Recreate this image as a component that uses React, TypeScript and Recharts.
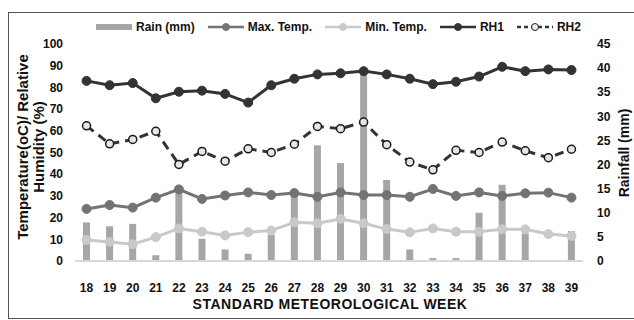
import { ComposedChart, Bar, Line, XAxis, YAxis } from "recharts";

const weeks = ["18", "19", "20", "21", "22", "23", "24", "25", "26", "27", "28", "29", "30", "31", "32", "33", "34", "35", "36", "37", "38", "39"];
const rain = [8.0, 7.2, 7.7, 1.2, 15.1, 4.6, 2.4, 1.5, 5.4, 14.4, 24.0, 20.3, 39.5, 16.8, 2.4, 0.6, 0.6, 10.0, 15.8, 5.7, 0, 6.2];
const maxTemp = [24, 25.8, 24.6, 29.2, 33, 28.6, 30.2, 31.6, 30.4, 31.3, 29.6, 31.6, 30.4, 30.4, 29.6, 33.2, 30, 31.6, 30, 31.2, 31.5, 29.2];
const minTemp = [9.7, 8.8, 7.7, 11, 15, 13.5, 11.8, 13.3, 14, 17.8, 17.4, 19.4, 17.4, 14.7, 13.2, 15, 13.5, 13.5, 14.6, 14.6, 12.4, 11.5];
const rh1 = [83, 81, 82, 75, 78, 78.5, 77, 73, 81, 84, 86, 86.5, 87.5, 86, 84, 81.5, 82.6, 85, 89.5, 87.5, 88.3, 88];
const rh2 = [62.3, 54, 56, 59.8, 44.5, 50.5, 46, 51.7, 50, 53.8, 62, 61, 64, 53.6, 45.6, 42, 51, 50, 54.8, 50.8, 47.6, 51.5];
const leftTicks = [0, 10, 20, 30, 40, 50, 60, 70, 80, 90, 100];
const rightTicks = [0, 5, 10, 15, 20, 25, 30, 35, 40, 45];

const data = weeks.map((week, i) => ({
  week,
  rain: rain[i],
  maxTemp: maxTemp[i],
  minTemp: minTemp[i],
  rh1: rh1[i],
  rh2: rh2[i],
}));

const FONT = '"Liberation Sans", Arial, sans-serif';
const RAIN = "#a6a6a6";
const MAXC = "#737373";
const MINC = "#c9c9c9";
const DARK = "#333333";

const tickStyle = { fontSize: 12, fontWeight: 700, fill: "#111", fontFamily: FONT };

const LegendIcon = ({ kind }: { kind: string }) => {
  if (kind === "rain") {
    return (
      <svg width={36} height={12}>
        <rect x={0} y={3} width={36} height={6} fill={RAIN} />
      </svg>
    );
  }
  const color = kind === "max" ? MAXC : kind === "min" ? MINC : DARK;
  const dashed = kind === "rh2";
  return (
    <svg width={36} height={12}>
      <line x1={0} y1={6} x2={36} y2={6} stroke={color} strokeWidth={2.5} strokeDasharray={dashed ? "4 3" : undefined} />
      <circle cx={18} cy={6} r={3.5} fill={dashed ? "#eee" : color} stroke={dashed ? "#222" : color} strokeWidth={1} />
    </svg>
  );
};

const legendItems = [
  { kind: "rain", label: "Rain (mm)" },
  { kind: "max", label: "Max. Temp." },
  { kind: "min", label: "Min. Temp." },
  { kind: "rh1", label: "RH1" },
  { kind: "rh2", label: "RH2" },
];

const ChartLegend = () => (
  <div
    style={{
      position: "absolute",
      left: 96,
      top: 20,
      display: "flex",
      alignItems: "center",
      gap: 13,
      fontFamily: FONT,
      fontSize: 12,
      fontWeight: 700,
      color: "#111",
      whiteSpace: "nowrap",
    }}
  >
    {legendItems.map((it) => (
      <div key={it.kind} style={{ display: "flex", alignItems: "center", gap: 4 }}>
        <LegendIcon kind={it.kind} />
        <span>{it.label}</span>
      </div>
    ))}
  </div>
);

const titleStyle = { fontSize: 15, fontWeight: 700, fontFamily: FONT, fill: "#111" };

const LeftTitle = () => (
  <g>
    <text transform="translate(22,147) rotate(-90)" textAnchor="middle" dominantBaseline="central" style={titleStyle}>
      Temperature(oC)/ Relative
    </text>
    <text transform="translate(38,147) rotate(-90)" textAnchor="middle" dominantBaseline="central" style={titleStyle}>
      Humidity (%)
    </text>
  </g>
);

const RightTitle = () => (
  <text
    transform="translate(624,153) rotate(-90)"
    textAnchor="middle"
    dominantBaseline="central"
    style={{ ...titleStyle, fontSize: 14 }}
  >
    Rainfall (mm)
  </text>
);

const BottomTitle = () => (
  <text
    x={330}
    y={304}
    textAnchor="middle"
    dominantBaseline="central"
    style={{ ...titleStyle, fontSize: 14, letterSpacing: 0.5 }}
  >
    STANDARD  METEOROLOGICAL  WEEK
  </text>
);

export default function App() {
  return (
    <div style={{ position: "absolute", left: 0, top: 0, width: 634, height: 320, background: "#fff", overflow: "hidden" }}>
      <div
        style={{
          position: "absolute",
          left: 8,
          top: 12,
          width: 630,
          height: 305,
          border: "1px solid #555",
        }}
      />
      <ChartLegend />
      <div style={{ position: "absolute", left: 0, top: 0 }}>
        <ComposedChart width={634} height={320} data={data} margin={{ top: 44, right: 11, bottom: 29, left: 15 }}>
          <XAxis
            dataKey="week"
            height={30}
            tickLine={false}
            tickSize={0}
            tickMargin={22}
            axisLine={{ stroke: "#d9d9d9", strokeWidth: 2 }}
            tick={tickStyle}
            interval={0}
            label={{ content: () => <BottomTitle /> }}
          />
          <YAxis
            yAxisId="left"
            width={60}
            domain={[0, 100]}
            ticks={leftTicks}
            axisLine={false}
            tickLine={false}
            tickSize={0}
            tickMargin={12}
            tick={tickStyle}
            interval={0}
            label={{ content: () => <LeftTitle /> }}
          />
          <YAxis
            yAxisId="right"
            orientation="right"
            width={40}
            domain={[0, 45]}
            ticks={rightTicks}
            axisLine={false}
            tickLine={false}
            tickSize={0}
            tickMargin={14}
            tick={{ ...tickStyle, textAnchor: "start" }}
            interval={0}
            label={{ content: () => <RightTitle /> }}
          />
          <Bar yAxisId="right" dataKey="rain" fill={RAIN} barSize={7} isAnimationActive={false} />
          <Line
            yAxisId="left"
            dataKey="maxTemp"
            stroke={MAXC}
            strokeWidth={3}
            dot={{ r: 4.5, fill: MAXC, stroke: MAXC, strokeWidth: 1 }}
            isAnimationActive={false}
          />
          <Line
            yAxisId="left"
            dataKey="minTemp"
            stroke={MINC}
            strokeWidth={3}
            dot={{ r: 4.5, fill: MINC, stroke: MINC, strokeWidth: 1 }}
            isAnimationActive={false}
          />
          <Line
            yAxisId="left"
            dataKey="rh1"
            stroke={DARK}
            strokeWidth={3}
            dot={{ r: 4.5, fill: DARK, stroke: DARK, strokeWidth: 1 }}
            isAnimationActive={false}
          />
          <Line
            yAxisId="left"
            dataKey="rh2"
            stroke={DARK}
            strokeWidth={3}
            strokeDasharray="9 6"
            dot={{ r: 4, fill: "#e6e6e6", stroke: "#1a1a1a", strokeWidth: 1.5, strokeDasharray: "" }}
            isAnimationActive={false}
          />
        </ComposedChart>
      </div>
    </div>
  );
}
